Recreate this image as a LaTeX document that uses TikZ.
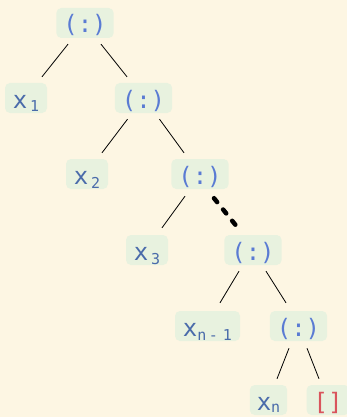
\documentclass[tikz,border=0pt]{standalone}
\usepackage{fontspec}
\newfontfamily\codefont{DejaVu Sans Mono}
\definecolor{paper}{HTML}{FDF6E3}
\definecolor{cellgreen}{HTML}{E8F2DF}
\definecolor{opblue}{HTML}{5A7BD3}
\definecolor{varblue}{HTML}{4A6BAA}
\definecolor{nilred}{HTML}{D9545C}
\newcommand{\sub}[2][-4pt]{\raisebox{#1}{\fontsize{15}{15}\selectfont #2}}

\begin{document}
\begin{tikzpicture}[
        x=1pt, y=-1pt,
        font=\codefont\fontsize{24}{24}\selectfont,
        cell/.style={
            fill=cellgreen,
            rounded corners=5pt,
            minimum height=30pt,
            text height=22pt,
            text depth=2pt,
            inner xsep=7pt,
            inner ysep=0pt
        },
        consbox/.style={cell, text=opblue},
        varbox/.style={cell, text=varblue},
        nilbox/.style={cell, text=nilred},
        line/.style={draw, line width=0.8pt},
        skipline/.style={draw, line width=4.5pt, line cap=round, dash pattern=on 5pt off 9.5pt}
    ]
        \fill[paper] (0,0) rectangle (347,417);
        \useasboundingbox (0,0) rectangle (347,417);

        \node[consbox] (root) at (85,23) {(:)};

        \node[varbox, minimum width=42pt] (x1) at (26,98) {x\hspace{3pt}\sub{1}};
        \node[consbox] (cons2) at (143.5,98) {(:)};

        \node[varbox, minimum width=42pt] (x2) at (87,174) {x\hspace{3pt}\sub{2}};
        \node[consbox] (cons3) at (200,174) {(:)};

        \node[varbox, minimum width=42pt] (x3) at (147,250) {x\hspace{3pt}\sub{3}};
        \node[consbox] (cons4) at (253,250) {(:)};

        \node[varbox, minimum width=65pt] (xprev) at (207.5,326) {x\sub{n\,-\,\,1}};
        \node[consbox] (cons5) at (298.5,326) {(:)};

        \node[varbox] (xlast) at (268.5,400) {x\sub[-2pt]{n}};
        \node[nilbox] (nil) at (328,400) {[]};

        \draw[line] ([shift={(-17,6)}]root.south) -- ([shift={(16,-6)}]x1.north);
        \draw[line] ([shift={(16,6)}]root.south) -- ([shift={(-16.5,-6)}]cons2.north);
        \draw[line] ([shift={(-16,6)}]cons2.south) -- ([shift={(15,-6)}]x2.north);
        \draw[line] ([shift={(16,6)}]cons2.south) -- ([shift={(-16,-6)}]cons3.north);
        \draw[line] ([shift={(-15,7)}]cons3.south) -- ([shift={(15,-7)}]x3.north);
        \draw[skipline] ([shift={(14,9)}]cons3.south) -- ([shift={(-16,-8)}]cons4.north);
        \draw[line] ([shift={(-14,6)}]cons4.south) -- ([shift={(12.5,-8)}]xprev.north);
        \draw[line] ([shift={(13,6)}]cons4.south) -- ([shift={(-12.5,-8)}]cons5.north);
        \draw[line] ([shift={(-9.5,7)}]cons5.south) -- ([shift={(8.5,-6)}]xlast.north);
        \draw[line] ([shift={(8.5,7)}]cons5.south) -- ([shift={(-9,-6)}]nil.north);
    \end{tikzpicture}
\end{document}
